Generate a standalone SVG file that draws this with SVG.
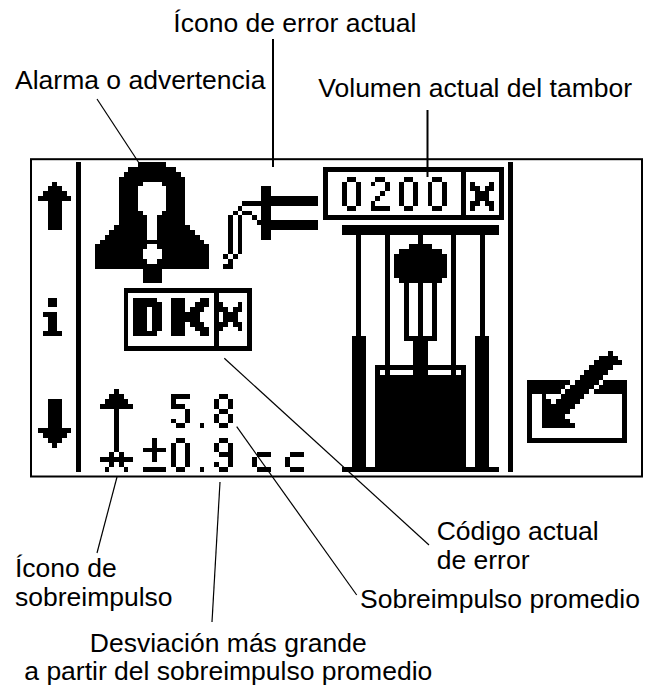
<svg xmlns="http://www.w3.org/2000/svg" width="656" height="689" viewBox="0 0 656 689">
<style>
  .lbl { font-family: "Liberation Sans", Arial, Helvetica, sans-serif; font-size: 26.5px; fill: #000; }
  .lead { stroke: #000; stroke-width: 1.2; fill: none; }
  .lead2 { stroke: #000; stroke-width: 2; fill: none; }
  .px { fill: #000; }
  .wh { fill: #fff; }
</style>
<rect width="656" height="689" fill="#fff"/>

<!-- LCD screen: outer frame plus a 128x64 pixel grid -->
<g id="display">
  <rect x="31" y="159.2" width="611" height="317.3" fill="#fff" stroke="#000" stroke-width="2"/>
  <g transform="translate(33.3 162.3) scale(4.75 4.834)" shape-rendering="crispEdges">
    <g id="nav-up"><path class="px" d="M4 4h1v1h-1z M3 5h3v1h-3z M2 6h5v1h-5z M1 7h7v1h-7z M3 8h3v6h-3z"/></g>
    <g id="nav-info"><path class="px" d="M3 28h2v2h-2z M2 31h3v1h-3z M3 32h2v3h-2z M2 35h4v1h-4z"/></g>
    <g id="nav-down"><path class="px" d="M3 49h3v6h-3z M1 55h7v1h-7z M2 56h5v1h-5z M3 57h3v1h-3z M4 58h1v1h-1z"/></g>
    <g id="separators"><path class="px" d="M9 0h1v64h-1z M100 0h1v64h-1z"/></g>

    <g id="alarm-bell">
      <path class="px" d="M22 0h6v1h-6z M20 1h10v1h-10z M19 2h12v1h-12z M18 3h14v10h-14z M17 13h16v1h-16z M16 14h18v1h-18z M15 15h20v1h-20z M14 16h22v1h-22z M13 17h24v5h-24z M23 22h4v3h-4z"/>
      <path class="wh" d="M23 4h4v1h-4z M22 5h6v5h-6z M23 10h4v1h-4z M24 11h2v5h-2z M24 17h2v1h-2z M23 18h4v2h-4z M24 20h2v1h-2z"/>
    </g>

    <g id="error-icon">
      <path class="px" d="M48 5h2v11h-2z M50 7h10v2h-10z M50 12h10v2h-10z"/>
      <path class="px" d="M44 8h4v1h-4z M43 9h1v1h-1z M42 10h1v1h-1z M41 11h1v8h-1z M40 19h1v1h-1z"/>
      <path class="px" d="M44 10h2v1h-2z M46 11h1v1h-1z M47 12h1v1h-1z M43 11h1v8h-1z M42 19h1v1h-1z M41 20h1v1h-1z M40 21h2v1h-2z"/>
    </g>

    <g id="volume-box">
      <path class="px" d="M61 1h38v1h-38z M61 11h38v1h-38z M61 2h1v9h-1z M98 2h1v9h-1z M90 2h1v9h-1z"/>
      <path class="px" d="M66 3h2v1h-2z M65 4h1v5h-1z M68 4h1v5h-1z M66 9h2v1h-2z"/>
      <path class="px" d="M72 3h2v1h-2z M71 4h1v1h-1z M74 4h1v2h-1z M73 6h1v1h-1z M72 7h1v1h-1z M71 8h1v1h-1z M71 9h4v1h-4z"/>
      <path class="px" d="M78 3h2v1h-2z M77 4h1v5h-1z M80 4h1v5h-1z M78 9h2v1h-2z"/>
      <path class="px" d="M84 3h2v1h-2z M83 4h1v5h-1z M86 4h1v5h-1z M84 9h2v1h-2z"/>
      <path class="px" d="M92 4h1v1h-1z M96 4h1v1h-1z M92 5h2v1h-2z M95 5h2v1h-2z M93 6h3v2h-3z M92 8h2v1h-2z M95 8h2v1h-2z M92 9h1v1h-1z M96 9h1v1h-1z"/>
    </g>

    <g id="drum">
      <path class="px" d="M65 13h33v2h-33z M68 15h1v21h-1z M94 15h1v21h-1z M67 36h3v27h-3z M93 36h3v27h-3z M74 15h1v27h-1z M88 15h1v27h-1z M81 15h1v2h-1z"/>
      <path class="px" d="M79 17h5v1h-5z M77 18h9v1h-9z M76 19h11v5h-11z M77 24h9v1h-9z"/>
      <path class="px" d="M78 25h1v11h-1z M81 25h1v11h-1z M84 25h1v11h-1z M78 36h7v1h-7z M80 37h3v5h-3z"/>
      <path class="px" d="M72 42h19v21h-19z M65 63h33v1h-33z"/>
      <path class="wh" d="M73 43h1v1h-1z M75 43h5v1h-5z M83 43h5v1h-5z M89 43h1v1h-1z"/>
    </g>

    <g id="edit-icon">
      <path class="px" d="M104 45h9v1h-9z M120 45h5v1h-5z M104 46h8v1h-8z M119 46h6v1h-6z M104 47h7v1h-7z M118 47h7v1h-7z M104 48h1v9h-1z M124 48h1v9h-1z M104 57h21v1h-21z"/>
      <path class="px" d="M121 39h1v1h-1z M119 40h4v1h-4z M118 41h6v1h-6z M117 42h5v1h-5z M116 43h5v1h-5z M115 44h5v1h-5z M114 45h5v1h-5z M113 46h5v1h-5z M112 47h5v1h-5z M107 48h1v1h-1z M111 48h5v1h-5z M107 49h2v1h-2z M110 49h5v1h-5z M107 50h7v1h-7z M107 51h6v1h-6z M107 52h5v1h-5z M107 53h6v1h-6z M107 54h7v1h-7z"/>
    </g>

    <g id="error-code">
      <path class="px" d="M19 26h27v1h-27z M19 38h27v1h-27z M19 27h1v11h-1z M45 27h1v11h-1z M38 27h1v11h-1z"/>
      <path class="px" d="M21 28h5v1h-5z M21 29h6v1h-6z M21 30h3v5h-3z M25 30h2v5h-2z M21 35h5v1h-5z"/>
      <path class="px" d="M29 28h3v8h-3z M35 28h2v1h-2z M34 29h3v1h-3z M33 30h3v1h-3z M32 31h3v2h-3z M33 33h3v1h-3z M34 34h3v1h-3z M35 35h2v1h-2z"/>
      <path class="px" d="M39 29h1v1h-1z M43 29h1v1h-1z M39 30h2v1h-2z M42 30h2v1h-2z M40 31h3v2h-3z M39 33h2v1h-2z M42 33h2v1h-2z M39 34h1v1h-1z M43 34h1v1h-1z"/>
    </g>

    <g id="overshoot">
      <path class="px" d="M17 47h1v1h-1z M16 48h3v1h-3z M15 49h5v1h-5z M14 50h7v1h-7z M17 51h1v9h-1z M16 60h1v1h-1z M18 60h1v1h-1z M14 61h7v1h-7z M16 62h1v1h-1z M18 62h1v1h-1z M15 63h1v1h-1z M19 63h1v1h-1z"/>
      <path class="px" d="M29 48h4v1h-4z M29 49h1v1h-1z M29 50h3v1h-3z M32 51h1v2h-1z M29 53h1v1h-1z M32 53h1v1h-1z M30 54h2v1h-2z M35 54h1v1h-1z M39 48h2v1h-2z M38 49h1v2h-1z M41 49h1v2h-1z M39 51h2v1h-2z M38 52h1v2h-1z M41 52h1v2h-1z M39 54h2v1h-2z"/>
      <path class="px" d="M25 57h1v2h-1z M23 59h5v1h-5z M25 60h1v2h-1z M23 63h5v1h-5z M30 57h2v1h-2z M29 58h1v5h-1z M32 58h1v5h-1z M30 63h2v1h-2z M35 63h1v1h-1z M39 57h2v1h-2z M38 58h1v2h-1z M41 58h1v5h-1z M39 60h2v1h-2z M38 62h1v1h-1z M39 63h2v1h-2z M47 60h3v1h-3z M46 61h1v2h-1z M47 63h3v1h-3z M54 60h3v1h-3z M53 61h1v2h-1z M54 63h3v1h-3z"/>
    </g>
  </g>
</g>

<!-- leader lines -->
<g id="connectors">
  <line class="lead" x1="97" y1="99" x2="139" y2="163"/>
  <line class="lead2" x1="273" y1="39" x2="273" y2="167"/>
  <line class="lead2" x1="427.5" y1="110" x2="427.5" y2="177"/>
  <line class="lead" x1="224.3" y1="358.3" x2="429" y2="545"/>
  <line class="lead" x1="236.7" y1="426.7" x2="356.7" y2="595"/>
  <line class="lead" x1="117" y1="477" x2="97" y2="553"/>
  <line class="lead" x1="220" y1="482" x2="212" y2="622"/>
</g>

<g id="label-error-icon"><text class="lbl" x="173.3" y="32.3">Ícono de error actual</text></g>
<g id="label-alarm"><text class="lbl" x="15" y="89.3">Alarma o advertencia</text></g>
<g id="label-volume"><text class="lbl" x="318.3" y="96.7">Volumen actual del tambor</text></g>
<g id="label-error-code"><text class="lbl" x="436.7" y="540">Código actual</text><text class="lbl" x="436.7" y="569.3">de error</text></g>
<g id="label-overshoot-icon"><text class="lbl" x="15" y="576.7">Ícono de</text><text class="lbl" x="15" y="606.3">sobreimpulso</text></g>
<g id="label-average"><text class="lbl" x="360" y="608.3">Sobreimpulso promedio</text></g>
<g id="label-deviation"><text class="lbl" x="228.3" y="651.7" text-anchor="middle">Desviación más grande</text><text class="lbl" x="228.3" y="680" text-anchor="middle">a partir del sobreimpulso promedio</text></g>
</svg>
